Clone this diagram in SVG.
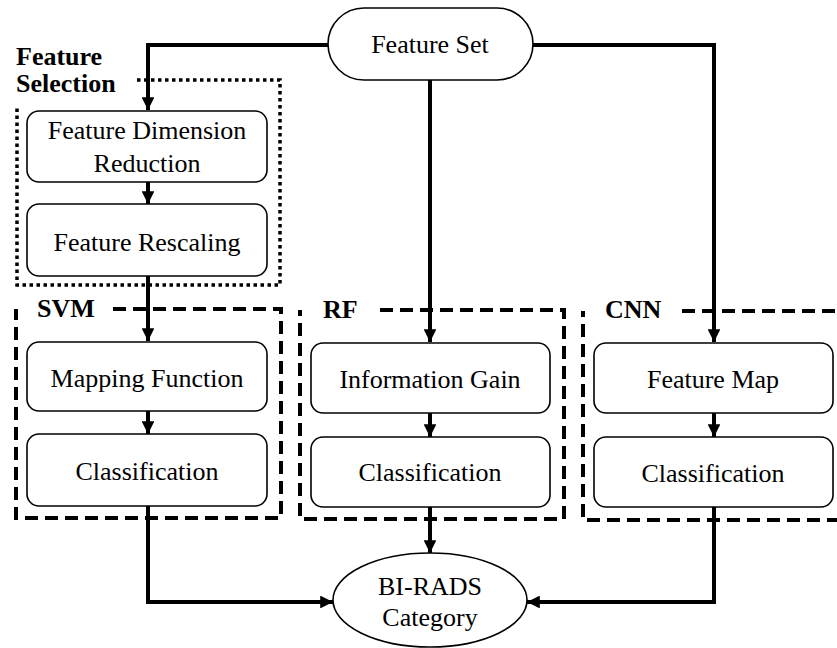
<svg xmlns="http://www.w3.org/2000/svg" width="837" height="648" viewBox="0 0 837 648">
  <style>
    .box { fill: #fff; stroke: #000; stroke-width: 1.6; }
    .txt { font-family: "Liberation Serif", "Times New Roman", serif; font-size: 26px; fill: #000; text-anchor: middle; }
    .lbl { font-family: "Liberation Serif", "Times New Roman", serif; font-size: 26px; font-weight: bold; fill: #000; }
    .wire { fill: none; stroke: #000; stroke-width: 4; }
    .dash { fill: none; stroke: #000; stroke-width: 4; stroke-dasharray: 13 7; }
    .dot { fill: none; stroke: #000; stroke-width: 3.5; stroke-dasharray: 3.5 3.5; }
  </style>
  <defs>
    <marker id="arrow" viewBox="0 0 10 10" refX="10" refY="5" markerWidth="3.2" markerHeight="3.2" markerUnits="strokeWidth" orient="auto">
      <path d="M0,0 L10,5 L0,10 Z" fill="#000"/>
    </marker>
  </defs>
  <rect width="837" height="648" fill="#fff"/>

  <!-- group frames -->
  <g id="feature-selection">
    <path class="dot" d="M137,80 H280 V285 H17 V108"/>
    <text class="lbl" x="16" y="65">Feature</text>
    <text class="lbl" x="16" y="92">Selection</text>
  </g>
  <g id="svm">
    <path class="dash" d="M113,309 H281 V518 H16 V309"/>
    <text class="lbl" x="37" y="317">SVM</text>
  </g>
  <g id="rf">
    <path class="dash" d="M380,310 H564 V519 H300 V310"/>
    <text class="lbl" x="323" y="318">RF</text>
  </g>
  <g id="cnn">
    <path class="dash" d="M682,311 H840 M840,520 H583 V311"/>
    <text class="lbl" x="605" y="318">CNN</text>
  </g>

  <!-- connectors -->
  <g id="connectors">
    <path class="wire" d="M328,45 H148 V110" marker-end="url(#arrow)"/>
    <path class="wire" d="M533,45 H714 V342" marker-end="url(#arrow)"/>
    <path class="wire" d="M430,80 V342" marker-end="url(#arrow)"/>
    <path class="wire" d="M148,182 V204" marker-end="url(#arrow)"/>
    <path class="wire" d="M148,276 V341" marker-end="url(#arrow)"/>
    <path class="wire" d="M148,411 V434" marker-end="url(#arrow)"/>
    <path class="wire" d="M430,413 V437" marker-end="url(#arrow)"/>
    <path class="wire" d="M714,413 V437" marker-end="url(#arrow)"/>
    <path class="wire" d="M148,506 V602 H333" marker-end="url(#arrow)"/>
    <path class="wire" d="M430,507 V553" marker-end="url(#arrow)"/>
    <path class="wire" d="M714,507 V602 H527" marker-end="url(#arrow)"/>
  </g>

  <!-- nodes -->
  <g id="feature-set">
    <rect class="box" x="328" y="8" width="205" height="72" rx="36"/>
    <text class="txt" x="430" y="53">Feature Set</text>
  </g>
  <g id="dim-reduction">
    <rect class="box" x="27" y="111" width="240" height="71" rx="12"/>
    <text class="txt" x="147" y="139">Feature Dimension</text>
    <text class="txt" x="147" y="172">Reduction</text>
  </g>
  <g id="rescaling">
    <rect class="box" x="27" y="204" width="240" height="72" rx="12"/>
    <text class="txt" x="147" y="251">Feature Rescaling</text>
  </g>
  <g id="mapping-function">
    <rect class="box" x="27" y="342" width="240" height="69" rx="12"/>
    <text class="txt" x="147" y="387">Mapping Function</text>
  </g>
  <g id="svm-classification">
    <rect class="box" x="27" y="434" width="240" height="72" rx="12"/>
    <text class="txt" x="147" y="480">Classification</text>
  </g>
  <g id="information-gain">
    <rect class="box" x="311" y="343" width="239" height="70" rx="12"/>
    <text class="txt" x="430" y="388">Information Gain</text>
  </g>
  <g id="rf-classification">
    <rect class="box" x="311" y="437" width="239" height="70" rx="12"/>
    <text class="txt" x="430" y="481">Classification</text>
  </g>
  <g id="feature-map">
    <rect class="box" x="594" y="343" width="239" height="70" rx="12"/>
    <text class="txt" x="713" y="388">Feature Map</text>
  </g>
  <g id="cnn-classification">
    <rect class="box" x="594" y="437" width="239" height="70" rx="12"/>
    <text class="txt" x="713" y="482">Classification</text>
  </g>
  <g id="bi-rads">
    <ellipse class="box" cx="430" cy="600" rx="97" ry="47"/>
    <text class="txt" x="430" y="595">BI-RADS</text>
    <text class="txt" x="430" y="626">Category</text>
  </g>
</svg>
